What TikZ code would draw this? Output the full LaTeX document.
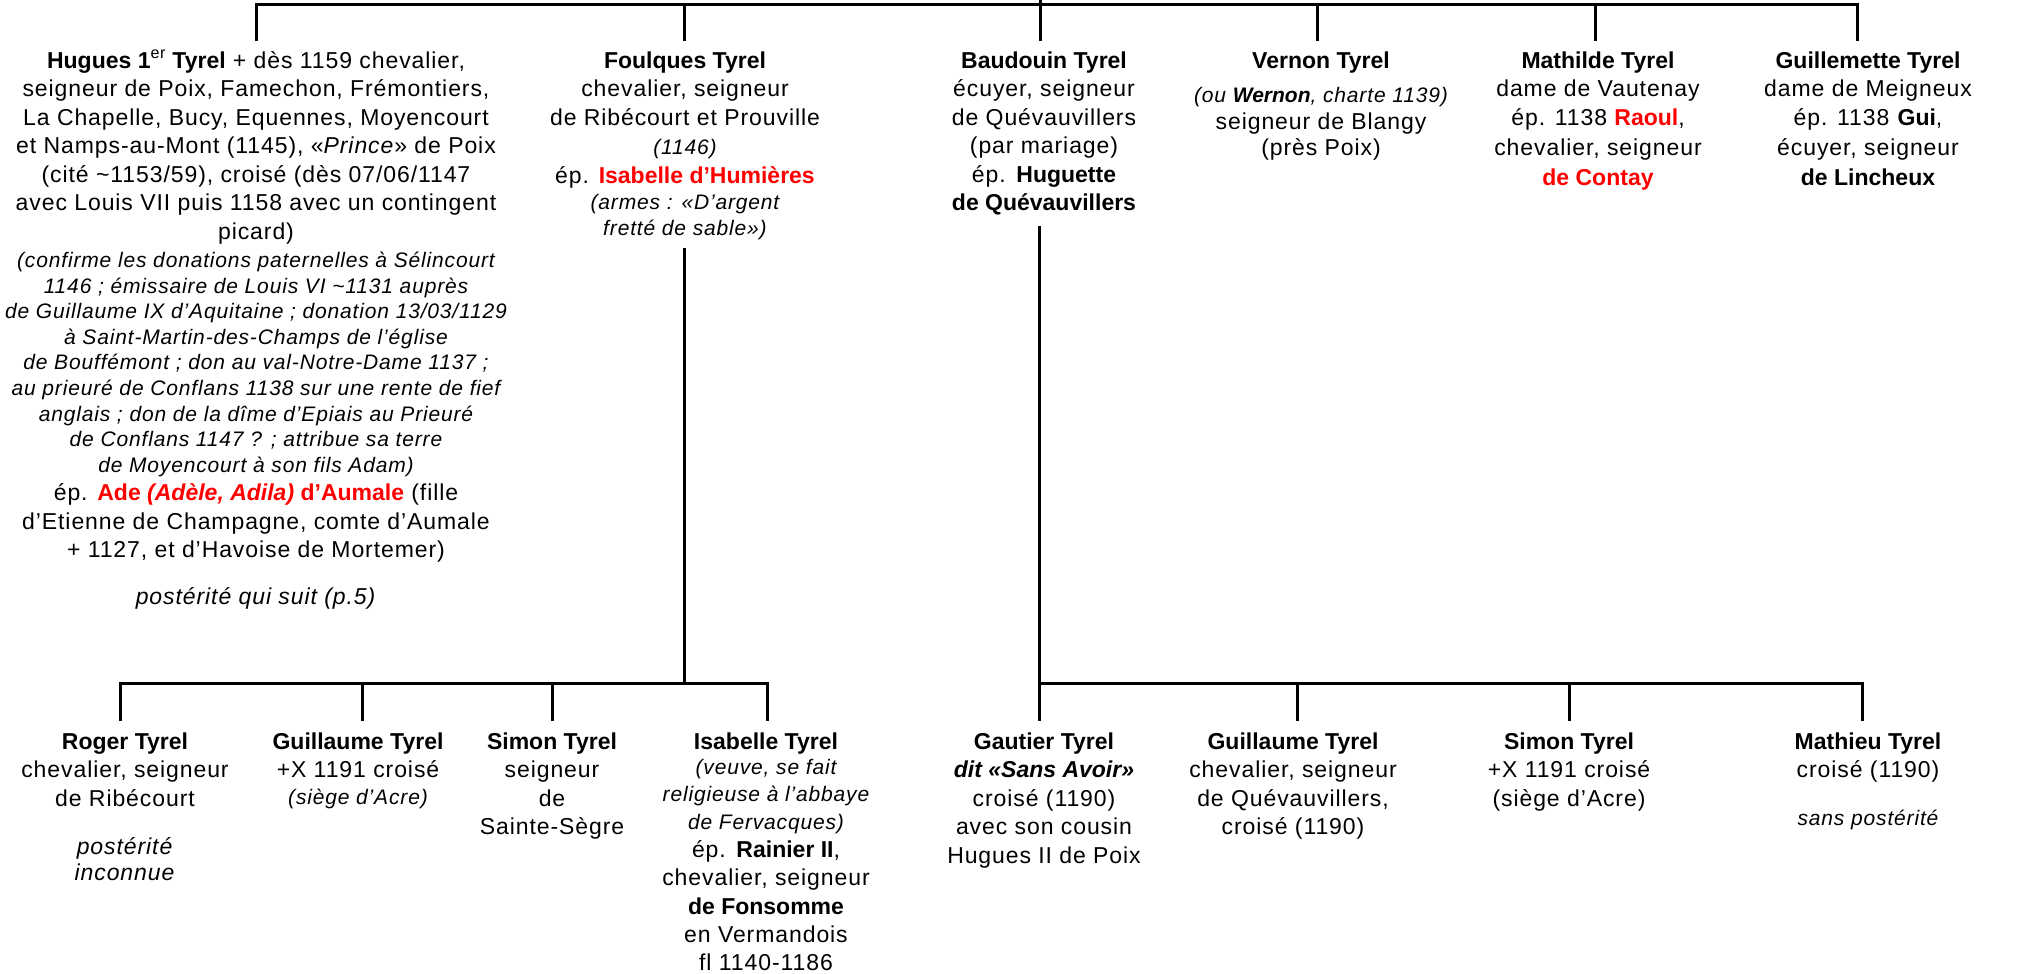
\documentclass[tikz,border=0pt]{standalone}
\usepackage{fontspec}
\setmainfont{Liberation Sans}[LetterSpace=4,BoldFeatures={LetterSpace=0},BoldItalicFeatures={LetterSpace=0}]
\definecolor{tred}{RGB}{255,0,0}
\newcommand\firstln{\rule{0pt}{21pt}}
\newcommand\noteit{\fontsize{21}{25.6}\selectfont\itshape}
\newcommand\rdb[1]{\textcolor{tred}{\textbf{#1}}}
\tikzset{
 person/.style={anchor=north, inner sep=0pt, outer sep=0pt, align=center, font=\fontsize{23}{28.5}\selectfont},
 tree/.style={line width=3pt, line join=miter},
 topdrop/.style={tree, shorten >=6pt},
 botdrop/.style={tree, shorten >=7pt}
}
\begin{document}
\begin{tikzpicture}[x=1pt,y=-1pt]
\fill[white] (0,0) rectangle (2021,974);
\useasboundingbox (0,0) rectangle (2021,974);

% ---------- first generation ----------
\node[person] (hugues) at (256,47) {\firstln\textbf{Hugues 1\textsuperscript{\mdseries er} Tyrel} + dès 1159 chevalier,\\
seigneur de Poix, Famechon, Frémontiers,\\
La Chapelle, Bucy, Equennes, Moyencourt\\
et Namps-au-Mont (1145), «\textit{Prince}» de Poix\\
(cité \textasciitilde1153/59), croisé (dès 07/06/1147\\
avec Louis VII puis 1158 avec un contingent\\
picard)\\
\noteit (confirme les donations paternelles à Sélincourt\\[-2.9pt]
\noteit 1146 ; émissaire de Louis VI \textasciitilde1131 auprès\\[-2.9pt]
\noteit de Guillaume IX d’Aquitaine ; donation 13/03/1129\\[-2.9pt]
\noteit à Saint-Martin-des-Champs de l’église\\[-2.9pt]
\noteit de Bouffémont ; don au val-Notre-Dame 1137 ;\\[-2.9pt]
\noteit au prieuré de Conflans 1138 sur une rente de fief\\[-2.9pt]
\noteit anglais ; don de la dîme d’Epiais au Prieuré\\[-2.9pt]
\noteit de Conflans 1147 ? ; attribue sa terre\\[-2.9pt]
\noteit de Moyencourt à son fils Adam)\\
ép. \rdb{Ade \textit{(Adèle, Adila)} d’Aumale} (fille\\
d’Etienne de Champagne, comte d’Aumale\\
+ 1127, et d’Havoise de Mortemer)\\[17.7pt]
\textit{postérité qui suit (p.5)}};

\node[person] (foulques) at (685,47) {\firstln\textbf{Foulques Tyrel}\\
chevalier, seigneur\\
de Ribécourt et Prouville\\[1pt]
\noteit (1146)\\
ép. \rdb{Isabelle d’Humières}\\[-2.5pt]
\noteit (armes : «D’argent\\[-2.5pt]
\noteit fretté de sable»)};

\node[person] (baudouin) at (1044,47) {\firstln\textbf{Baudouin Tyrel}\\
écuyer, seigneur\\
de Quévauvillers\\
(par mariage)\\
ép. \textbf{Huguette}\\
\textbf{de Quévauvillers}};

\node[person] (vernon) at (1321,47) {\firstln\textbf{Vernon Tyrel}\\[5.5pt]
\noteit (ou \textbf{Wernon}, charte 1139)\\[-1.5pt]
seigneur de Blangy\\[-2.5pt]
(près Poix)};

\node[person] (mathilde) at (1598,47) {\firstln\textbf{Mathilde Tyrel}\\
dame de Vautenay\\
ép. 1138 \rdb{Raoul},\\[1.5pt]
chevalier, seigneur\\[1.5pt]
\rdb{de Contay}};

\node[person] (guillemette) at (1868,47) {\firstln\textbf{Guillemette Tyrel}\\
dame de Meigneux\\
ép. 1138 \textbf{Gui},\\[1.5pt]
écuyer, seigneur\\[1.5pt]
\textbf{de Lincheux}};

% ---------- children of Foulques ----------
\node[person] (roger) at (125,728) {\firstln\textbf{Roger Tyrel}\\
chevalier, seigneur\\
de Ribécourt\\[19.5pt]
\textit{postérité}\\[-2.5pt]
\textit{inconnue}};

\node[person] (guillaumeL) at (358,728) {\firstln\textbf{Guillaume Tyrel}\\
+X 1191 croisé\\[-2pt]
\noteit (siège d’Acre)};

\node[person] (simonL) at (552,728) {\firstln\textbf{Simon Tyrel}\\
seigneur\\
de\\
Sainte-Sègre};

\node[person] (isabelle) at (766,728) {\firstln\textbf{Isabelle Tyrel}\\[-3.5pt]
\noteit (veuve, se fait\\[-1pt]
\noteit religieuse à l’abbaye\\[-1pt]
\noteit de Fervacques)\\[-0.5pt]
ép. \textbf{Rainier II},\\
chevalier, seigneur\\
\textbf{de Fonsomme}\\
en Vermandois\\[-1pt]
fl 1140-1186};

% ---------- children of Baudouin ----------
\node[person] (gautier) at (1044,728) {\firstln\textbf{Gautier Tyrel}\\
\textbf{\textit{dit «Sans Avoir»}}\\
croisé (1190)\\
avec son cousin\\
Hugues II de Poix};

\node[person] (guillaumeR) at (1293,728) {\firstln\textbf{Guillaume Tyrel}\\
chevalier, seigneur\\
de Quévauvillers,\\
croisé (1190)};

\node[person] (simonR) at (1569,728) {\firstln\textbf{Simon Tyrel}\\
+X 1191 croisé\\
(siège d’Acre)};

\node[person] (mathieu) at (1868,728) {\firstln\textbf{Mathieu Tyrel}\\
croisé (1190)\\[19.5pt]
\noteit sans postérité};

% ---------- junction coordinates ----------
\coordinate (up) at (1040,0);
\coordinate (tH) at (256,5);
\coordinate (tF) at (684,5);
\coordinate (tV) at (1317,5);
\coordinate (tM) at (1595,5);
\coordinate (tG) at (1857,5);
\coordinate (bR) at (120,683);
\coordinate (bGl) at (362,683);
\coordinate (bS) at (552,683);
\coordinate (bF) at (684,683);
\coordinate (bI) at (767,683);
\coordinate (bB) at (1039,683);
\coordinate (bGr) at (1297,683);
\coordinate (bSr) at (1569,683);
\coordinate (bMa) at (1862,683);

% ---------- connectors ----------
\draw[tree, shorten <=6pt, shorten >=6pt] (tH |- hugues.north) -- (tH) -- (tG) -- (tG |- guillemette.north);
\draw[topdrop] (up) -- (up |- baudouin.north);
\draw[topdrop] (tF) -- (tF |- foulques.north);
\draw[topdrop] (tV) -- (tV |- vernon.north);
\draw[topdrop] (tM) -- (tM |- mathilde.north);

\draw[tree, shorten <=8.6pt] (bF |- foulques.south) -- (bF);
\draw[tree, shorten <=7pt, shorten >=7pt] (bR |- roger.north) -- (bR) -- (bI) -- (bI |- isabelle.north);
\draw[botdrop] (bGl) -- (bGl |- guillaumeL.north);
\draw[botdrop] (bS) -- (bS |- simonL.north);

\draw[tree, shorten <=11pt, shorten >=7pt] (bB |- baudouin.south) -- (bB |- gautier.north);
\draw[tree, shorten >=7pt] (bB) -- (bMa) -- (bMa |- mathieu.north);
\draw[botdrop] (bGr) -- (bGr |- guillaumeR.north);
\draw[botdrop] (bSr) -- (bSr |- simonR.north);
\end{tikzpicture}
\end{document}
